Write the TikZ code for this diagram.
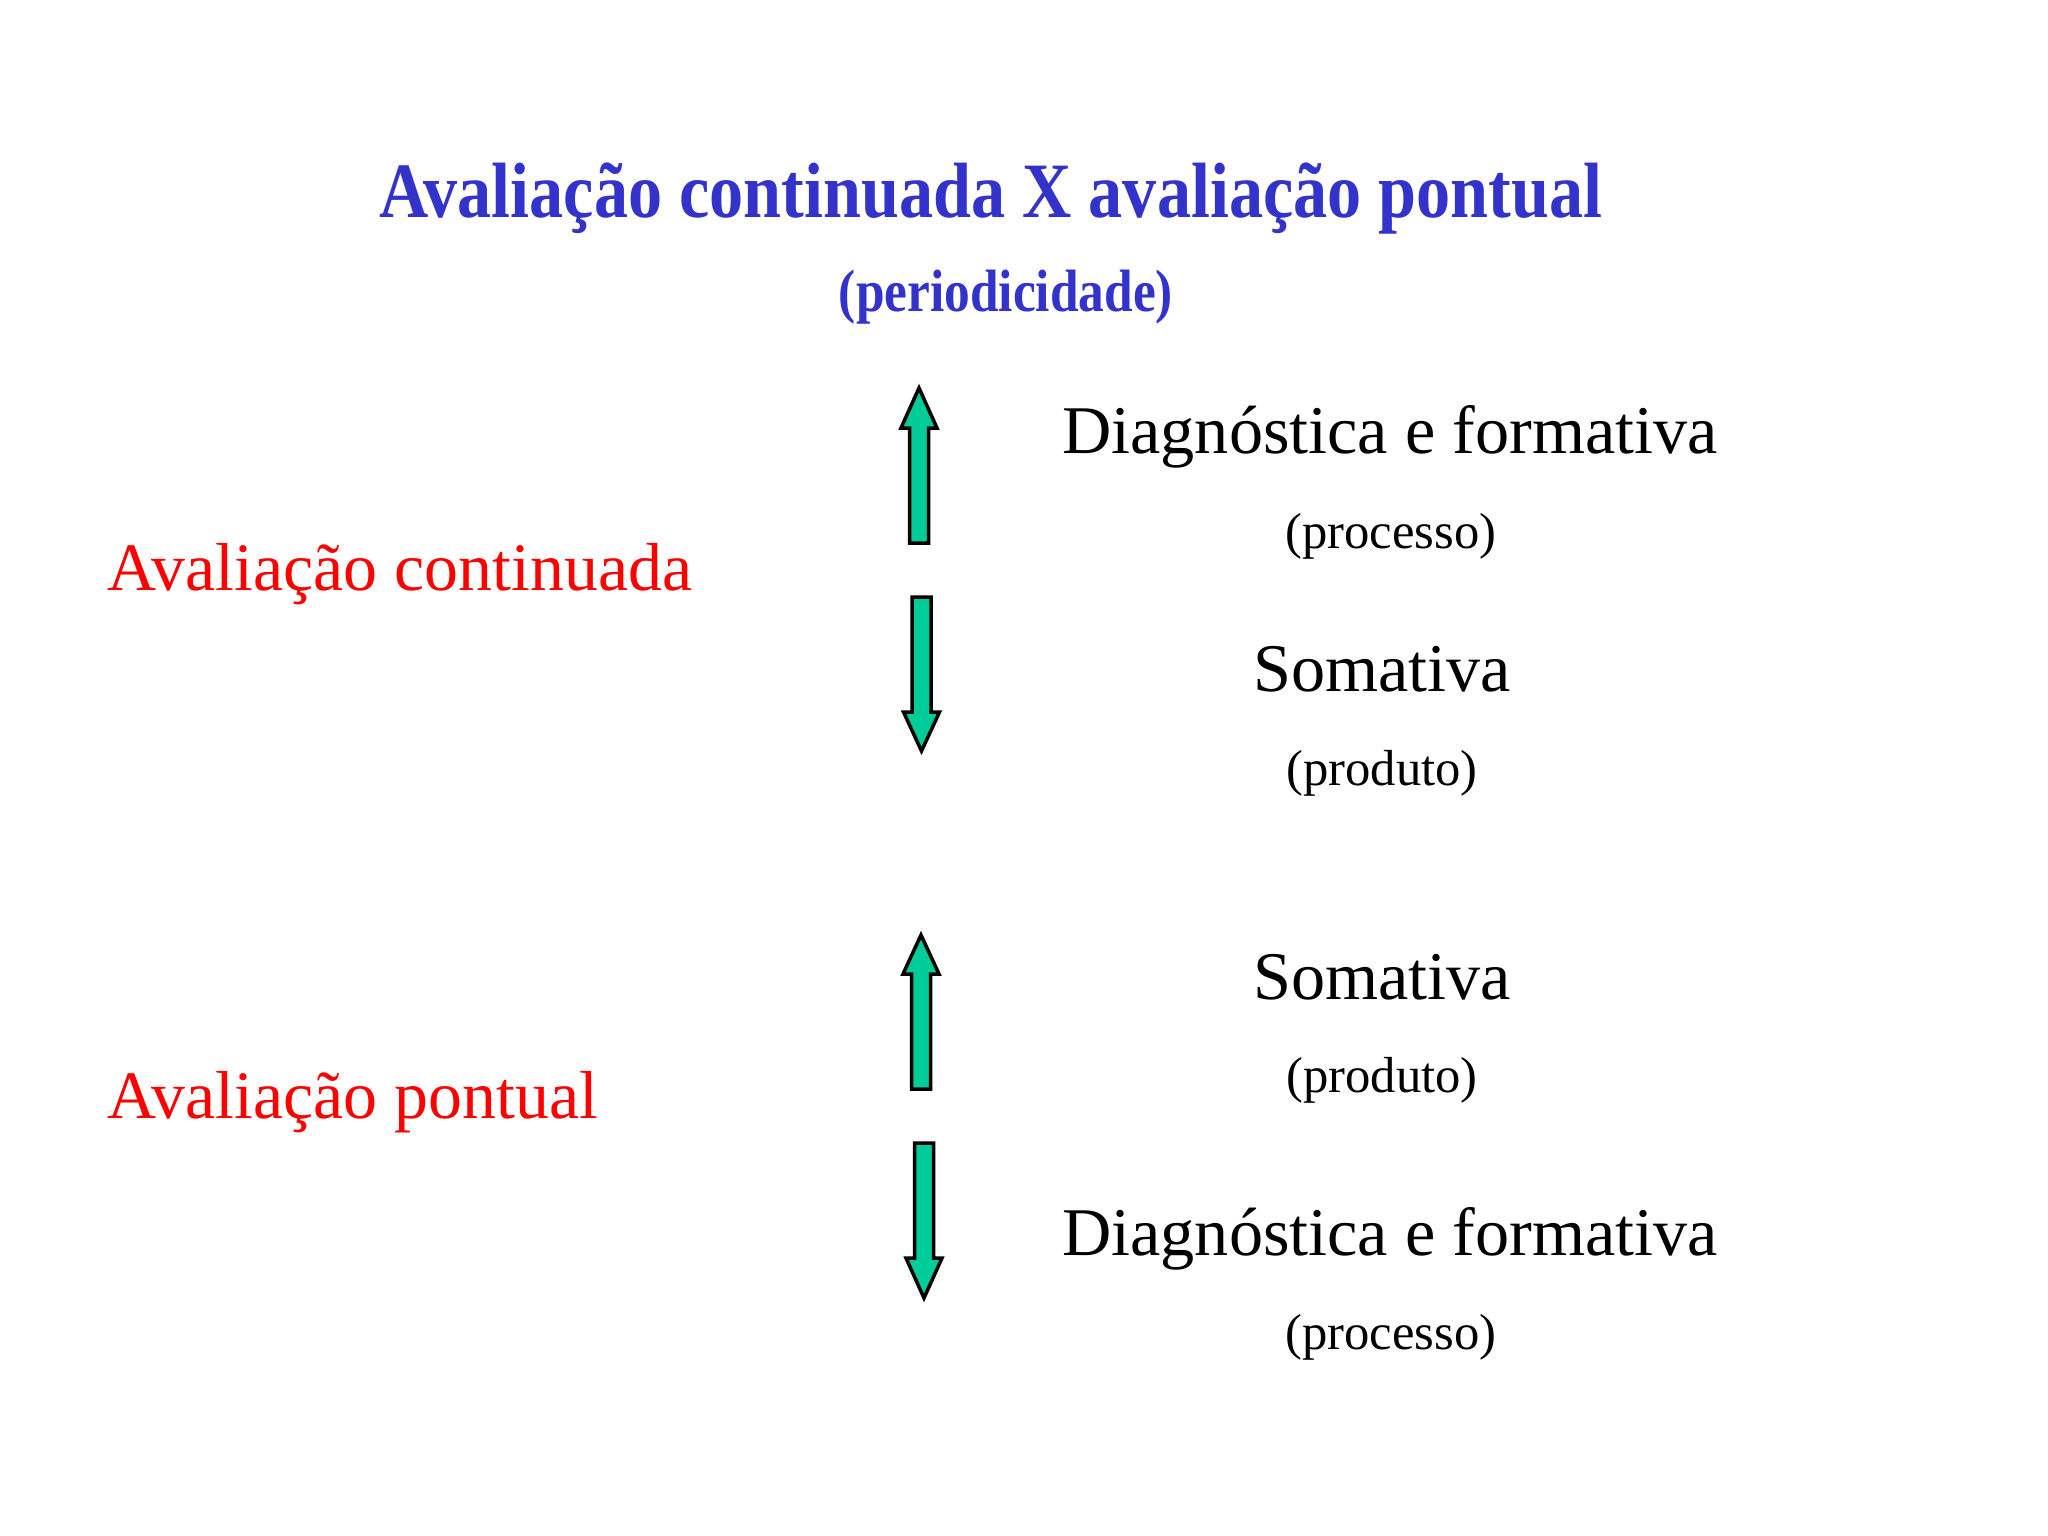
\documentclass[tikz,border=0pt]{standalone}
\usepackage{fontspec}
\setmainfont{Liberation Serif}
\usepackage{xcolor}
\definecolor{titblue}{RGB}{51,51,204}
\definecolor{setaverde}{RGB}{0,204,153}
\tikzset{
  titulo/.style={anchor=base,text=titblue,font=\bfseries\fontsize{22.3}{26}\selectfont,xscale=0.87},
  subtitulo/.style={anchor=base,text=titblue,font=\bfseries\fontsize{17}{20}\selectfont,xscale=0.86},
  tipo/.style={anchor=base,font=\fontsize{19.4}{23}\selectfont},
  obs/.style={anchor=base,font=\fontsize{14.4}{17}\selectfont},
  modo/.style={anchor=base west,text=red,font=\fontsize{19.3}{23}\selectfont},
  seta/.style={draw=black,fill=setaverde,line width=1pt,line join=miter}
}
\begin{document}
\begin{tikzpicture}[x=0.01cm,y=-0.01cm]
			\useasboundingbox (0,0) rectangle (2048,1536);
			% Titulo
			\node [titulo] (tit) at (991,217) {Avaliação continuada X avaliação pontual};
			\node [subtitulo] (per) at (1006,311) {(periodicidade)};
			% Tipos de avaliacao
			\node [modo] (cont) at (95,590) {Avaliação continuada};
			\node [modo] (pont) at (95,1118) {Avaliação pontual};
			% Textos da direita
			\node [tipo] (diag1) at (1390,453) {Diagnóstica e formativa};
			\node [obs] (proc1) at (1391,548) {(processo)};
			\node [tipo] (soma1) at (1382,691) {Somativa};
			\node [obs] (prod1) at (1382,785) {(produto)};
			\node [tipo] (soma2) at (1382,999) {Somativa};
			\node [obs] (prod2) at (1382,1092) {(produto)};
			\node [tipo] (diag2) at (1390,1255) {Diagnóstica e formativa};
			\node [obs] (proc2) at (1391,1349) {(processo)};
			% Setas (x, inicio, base da ponta, ponta)
			\foreach \cx/\ya/\yb/\yc in {919/543/428/388,921.5/597/712/751,921/1089/974/935,924/1143/1258/1298}
			\draw [seta] (\cx-9.5,\ya) -- (\cx-9.5,\yb) -- (\cx-18,\yb) -- (\cx,\yc)
				-- (\cx+18,\yb) -- (\cx+9.5,\yb) -- (\cx+9.5,\ya) -- cycle;
		\end{tikzpicture}
\end{document}
